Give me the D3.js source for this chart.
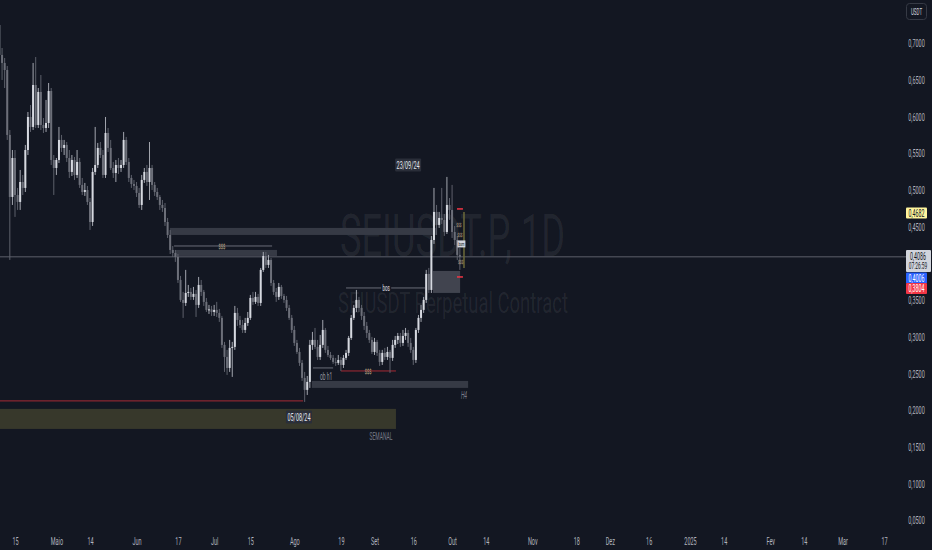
<!DOCTYPE html>
<html><head><meta charset="utf-8">
<script src="https://cdn.jsdelivr.net/npm/d3@7/dist/d3.min.js"></script>
<style>html,body{margin:0;padding:0;background:#131722;overflow:hidden}</style>
</head><body><svg id="c" width="932" height="550"></svg>
<script>
// ---------- DATA ----------
const startDate = "2024-04-09";           // first daily candle
const firstOpen = 0.7245;
const closes = [
0.6837,0.6728,0.6632,0.5747,0.4902,0.5433,0.4929,0.4834,0.5106,0.5025,
0.5542,0.5992,0.5856,0.6428,0.5883,0.6333,0.5883,0.5842,0.5910,0.6346,
0.5406,0.5297,0.5406,0.5679,0.5570,0.5611,0.5433,0.5243,0.5406,0.5202,
0.5379,0.5066,0.4970,0.4997,0.4834,0.4561,0.5243,0.5338,0.5570,0.5474,
0.5202,0.5774,0.5570,0.5297,0.5229,0.5338,0.5297,0.5338,0.5679,0.5379,
0.5161,0.5079,0.5052,0.4957,0.4793,0.5134,0.5243,0.5106,0.5297,0.5066,
0.4970,0.4902,0.4793,0.4752,0.4561,0.4384,0.4180,0.4139,0.4085,0.3771,
0.3499,0.3458,0.3594,0.3608,0.3540,0.3581,0.3431,0.3703,0.3608,0.3472,
0.3363,0.3370,0.3335,0.3363,0.3322,0.3254,0.2886,0.2722,0.2572,0.2845,
0.2859,0.3322,0.3226,0.3158,0.3090,0.3185,0.3254,0.3526,0.3472,0.3540,
0.3458,0.3908,0.4098,0.3976,0.4044,0.3730,0.3608,0.3540,0.3676,0.3553,
0.3499,0.3390,0.3254,0.3090,0.2913,0.2790,0.2641,0.2436,0.2273,0.2382,
0.2886,0.2954,0.2859,0.2722,0.2886,0.3090,0.2818,0.2749,0.2709,0.2654,
0.2641,0.2681,0.2613,0.2709,0.2777,0.2981,0.3254,0.3390,0.3499,0.3390,
0.3281,0.3145,0.3049,0.2954,0.2790,0.2927,0.2777,0.2654,0.2777,0.2722,
0.2790,0.2709,0.2886,0.2954,0.3008,0.2913,0.3008,0.3049,0.2913,0.2818,
0.2681,0.3090,0.3254,0.3363,0.3499,0.3853,0.3635,0.4316,0.4698,0.4521,
0.4616,0.4589,0.4425,0.4793,0.4725,0.4425,0.4316,0.4112,0.4086
];
const highs = [
0.7409,0.6932,0.6796,0.6687,0.5815,0.5542,0.5542,0.5025,0.5270,0.5202,
0.5611,0.6060,0.6155,0.6728,0.6809,0.6387,0.6564,0.5978,0.6224,0.6455,
0.6387,0.5474,0.5433,0.5856,0.5747,0.5679,0.5651,0.5542,0.5474,0.5447,
0.5542,0.5433,0.5161,0.5093,0.5052,0.4888,0.5297,0.5856,0.5638,0.5651,
0.5542,0.5992,0.5842,0.5679,0.5379,0.5406,0.5433,0.5406,0.5788,0.5720,
0.5433,0.5202,0.5134,0.5106,0.5025,0.5202,0.5297,0.5338,0.5651,0.5338,
0.5106,0.5025,0.4929,0.4861,0.4820,0.4616,0.4452,0.4234,0.4180,0.4125,
0.3826,0.3608,0.3908,0.3703,0.3662,0.3676,0.3635,0.3812,0.3771,0.3635,
0.3526,0.3431,0.3417,0.3431,0.3472,0.3376,0.3281,0.2927,0.2818,0.2954,
0.2927,0.3417,0.3390,0.3281,0.3226,0.3254,0.3335,0.3567,0.3608,0.3608,
0.3581,0.3935,0.4153,0.4153,0.4112,0.4071,0.3771,0.3662,0.3730,0.3703,
0.3581,0.3553,0.3431,0.3294,0.3145,0.2954,0.2845,0.2681,0.2518,0.2463,
0.2954,0.3063,0.3117,0.2954,0.3022,0.3226,0.3117,0.2872,0.2790,0.2749,
0.2709,0.2749,0.2722,0.2749,0.2818,0.3008,0.3294,0.3431,0.3635,0.3540,
0.3431,0.3335,0.3199,0.3090,0.2995,0.2981,0.2954,0.2818,0.2818,0.2845,
0.2859,0.2818,0.2954,0.3008,0.3049,0.3049,0.3090,0.3117,0.3090,0.2981,
0.2859,0.3117,0.3294,0.3431,0.3540,0.3908,0.3935,0.4371,0.5025,0.4793,
0.4698,0.5025,0.4670,0.5175,0.4888,0.5066,0.4507,0.4371,0.4207
];
const lows = [
0.6769,0.6496,0.6387,0.5679,0.4044,0.4793,0.4630,0.4725,0.4725,0.4929,
0.4970,0.5474,0.5788,0.5815,0.5842,0.5842,0.5815,0.5774,0.5788,0.5842,
0.5338,0.4929,0.5202,0.5365,0.5515,0.5474,0.5379,0.5161,0.5188,0.5134,
0.5161,0.5025,0.4929,0.4916,0.4793,0.4452,0.4507,0.5202,0.5297,0.5433,
0.5161,0.5161,0.5515,0.5270,0.5161,0.5106,0.5215,0.5243,0.5297,0.5338,
0.5106,0.5025,0.4997,0.4902,0.4752,0.4725,0.5093,0.5052,0.4861,0.4997,
0.4916,0.4861,0.4725,0.4698,0.4507,0.4343,0.4125,0.4085,0.4017,0.3730,
0.3472,0.3254,0.3417,0.3540,0.3499,0.3499,0.3267,0.3390,0.3553,0.3417,
0.3335,0.3308,0.3281,0.3281,0.3267,0.3199,0.2845,0.2518,0.2477,0.2518,
0.2450,0.2818,0.3145,0.3117,0.3049,0.3049,0.3145,0.3226,0.3431,0.3444,
0.3417,0.3417,0.3880,0.3935,0.3935,0.3690,0.3567,0.3472,0.3499,0.3513,
0.3458,0.3349,0.3226,0.3049,0.2872,0.2763,0.2600,0.2395,0.2109,0.2204,
0.2300,0.2818,0.2831,0.2681,0.2681,0.2845,0.2777,0.2722,0.2681,0.2627,
0.2600,0.2613,0.2531,0.2572,0.2681,0.2736,0.2954,0.3226,0.3335,0.3335,
0.3226,0.3090,0.2981,0.2913,0.2763,0.2749,0.2736,0.2600,0.2613,0.2681,
0.2681,0.2504,0.2668,0.2845,0.2899,0.2859,0.2872,0.2954,0.2859,0.2777,
0.2613,0.2641,0.3049,0.3199,0.3322,0.3458,0.3594,0.3594,0.4262,0.4384,
0.4480,0.4534,0.4371,0.4398,0.4589,0.4343,0.4248,0.4044,0.3908
];
const opens = [firstOpen].concat(closes.slice(0, -1)); // daily open = previous close

const timeTickDates = ["2024-04-15","2024-05-01","2024-05-14","2024-06-01","2024-06-17","2024-07-01","2024-07-15","2024-08-01","2024-08-19","2024-09-01","2024-09-16","2024-10-01","2024-10-14","2024-11-01","2024-11-18","2024-12-01","2024-12-16","2025-01-01","2025-01-14","2025-02-01","2025-02-14","2025-03-01","2025-03-17"];
const timeTickLabels = ["15","Maio","14","Jun","17","Jul","15","Ago","19","Set","16","Out","14","Nov","18","Dez","16","2025","14","Fev","14","Mar","17"];
const priceTicks = [0.05,0.10,0.15,0.20,0.25,0.30,0.35,0.40,0.45,0.50,0.55,0.60,0.65,0.70];

const lastPrice = 0.4086, countdown = "07:26:59";
const markerPrices = [{p:0.4682, bg:"#fff59d", fg:"#131722"}, {p:0.4006, bg:"#2962ff", fg:"#ffffff"}, {p:0.3804, bg:"#f23645", fg:"#ffffff"}];

// ---------- SETUP ----------
const svg = d3.select("#c");
const DAY = 864e5;
const t0 = Date.parse(startDate + "T00:00:00Z");
const parse = s => new Date(s + "T00:00:00Z");
const x = d3.scaleUtc().domain([parse("2024-04-15"), parse("2025-03-17")]).range([15, 884]);
const y = d3.scaleLinear().domain([0.05, 0.70]).range([520, 43]);
const xb = b => x(new Date(t0 + b * DAY));   // bar index -> x
const fmt = p => p.toFixed(4).replace(".", ",");
const SX = 0.5;

svg.append("rect").attr("width", 932).attr("height", 550).attr("fill", "#131722");

function ctext(g, px, py, str, o = {}) {
  const t = g.append("text")
    .attr("transform", `translate(${px},${py}) scale(${o.sx ?? SX},1)`)
    .attr("text-anchor", o.anchor || "middle").attr("dy", "0.35em")
    .attr("font-family", o.family || "Roboto, 'DejaVu Sans', sans-serif")
    .attr("font-size", o.size || 10).attr("fill", o.fill || "#b2b5be");
  if (o.weight) t.attr("font-weight", o.weight);
  if (o.italic) t.attr("font-style", "italic");
  t.text(str);
  return t;
}

// ---------- WATERMARK ----------
const wm = svg.append("g");
wm.append("text").attr("x", 340).attr("y", 256).attr("textLength", 225).attr("lengthAdjust", "spacingAndGlyphs")
  .attr("font-family", "Roboto, sans-serif").attr("font-size", 60).attr("fill", "rgba(255,255,255,0.07)").text("SEIUSDT.P, 1D");
wm.append("text").attr("x", 338).attr("y", 313).attr("textLength", 230).attr("lengthAdjust", "spacingAndGlyphs")
  .attr("font-family", "Roboto, sans-serif").attr("font-size", 30).attr("fill", "rgba(255,255,255,0.07)").text("SEIUSDT Perpetual Contract");

// ---------- DRAWINGS (zones & levels) ----------
const plot = svg.append("g");
const zones = [
  {b0: 65.9, b1: 168.8, top: 0.4480, bot: 0.4384, fill: "#363a45"},
  {b0: 67.9, b1: 107.3, top: 0.4180, bot: 0.4098, fill: "#363a45"},
  {b0: 167.6, b1: 178.1, top: 0.3894, bot: 0.3594, fill: "#41444f"},
  {b0: 120.8, b1: 181.2, top: 0.2395, bot: 0.2300, fill: "#363a45"},
  {b0: -2, b1: 153.3, top: 0.2014, bot: 0.1741, fill: "#37382b"}
];
plot.selectAll("rect.zone").data(zones).join("rect").attr("class", "zone")
  .attr("x", d => Math.max(0, xb(d.b0))).attr("width", d => xb(d.b1) - Math.max(0, xb(d.b0)))
  .attr("y", d => y(d.top)).attr("height", d => y(d.bot) - y(d.top)).attr("fill", d => d.fill);

const levels = [
  {b0: 67.5, b1: 105.4, p: 0.4234, c: "#6a6d78"},
  {b0: 134, b1: 164.5, p: 0.3662, c: "#6a6d78"},
  {b0: 132, b1: 153.3, p: 0.2531, c: "#a82a35"},
  {b0: 121.2, b1: 129, p: 0.2572, c: "#6a6d78"},
  {b0: -2, b1: 117.4, p: 0.2123, c: "#a82a35"}
];
plot.selectAll("line.lvl").data(levels).join("line").attr("class", "lvl")
  .attr("x1", d => Math.max(0, xb(d.b0))).attr("x2", d => xb(d.b1))
  .attr("y1", d => y(d.p)).attr("y2", d => y(d.p)).attr("stroke", d => d.c).attr("stroke-width", 1);

// current price line
plot.append("line").attr("x1", 0).attr("x2", 906).attr("y1", y(lastPrice)).attr("y2", y(lastPrice))
  .attr("stroke", "#5d606b").attr("stroke-width", 1);

// ---------- CANDLES ----------
const data = closes.map((c, i) => ({t: new Date(t0 + i * DAY), o: opens[i], h: highs[i], l: lows[i], c}));
const upC = "#d6d9e0", dnC = "#6c6f79";
const cg = plot.append("g");
const cs = cg.selectAll("g").data(data).join("g");
cs.append("line").attr("x1", d => x(d.t)).attr("x2", d => x(d.t))
  .attr("y1", d => y(d.h)).attr("y2", d => y(d.l))
  .attr("stroke", d => d.c >= d.o ? "#a3a6af" : "#5d606b").attr("stroke-width", 1);
cs.append("rect").attr("x", d => x(d.t) - 1).attr("width", 2)
  .attr("y", d => y(Math.max(d.o, d.c)))
  .attr("height", d => Math.max(1, Math.abs(y(d.o) - y(d.c))))
  .attr("fill", d => d.c >= d.o ? upC : dnC);

// ---------- LABELS ON DRAWINGS ----------
const tan = "#cdb894";
function boxLabel(cx, cy, str, w) {
  plot.append("rect").attr("x", cx - w / 2).attr("y", cy - 6.5).attr("width", w).attr("height", 13).attr("rx", 1).attr("fill", "#2a2e39");
  ctext(plot, cx, cy, str, {size: 11, fill: "#e0e3eb"});
}
ctext(plot, xb(86), y(0.4234), "$$$", {size: 8, fill: tan});
plot.append("rect").attr("x", xb(149.5) - 5).attr("y", y(0.3662) - 4.5).attr("width", 10).attr("height", 9).attr("fill", "#131722");
ctext(plot, xb(149.5), y(0.3662), "bos", {size: 9, fill: "#e0e3eb"});
ctext(plot, xb(142.5), y(0.2531), "$$$", {size: 8, fill: tan});
ctext(plot, xb(126.3), y(0.2450), "ob h1", {size: 10, fill: "#9598a1"});
ctext(plot, xb(179.6), y(0.2191), "H4", {size: 10, fill: "#787b86", italic: true});
ctext(plot, xb(147.5), y(0.1632), "SEMANAL", {size: 10, fill: "#787b86"});
boxLabel(xb(115.8), y(0.1905), "05/08/24", 26);
boxLabel(xb(158), y(0.5338), "23/09/24", 26);

// right-end markers
plot.append("line").attr("x1", xb(176.9)).attr("x2", xb(179.2)).attr("y1", y(0.4739)).attr("y2", y(0.4739)).attr("stroke", "#f23645").attr("stroke-width", 1.5);
plot.append("line").attr("x1", xb(176.9)).attr("x2", xb(179.2)).attr("y1", y(0.3812)).attr("y2", y(0.3812)).attr("stroke", "#f23645").attr("stroke-width", 1.5);
plot.append("line").attr("x1", xb(179.6)).attr("x2", xb(179.6)).attr("y1", y(0.4698)).attr("y2", y(0.3935)).attr("stroke", "#6b6a3a").attr("stroke-width", 1.5);
ctext(plot, xb(177.6), y(0.4521), "$$$", {size: 6, fill: tan});
ctext(plot, xb(178), y(0.4384), "$$$", {size: 6, fill: tan});
plot.append("rect").attr("x", xb(178.6) - 4).attr("y", y(0.4262) - 3.5).attr("width", 8).attr("height", 7).attr("fill", "#d1d4dc");
ctext(plot, xb(178.6), y(0.4262), "bsm", {size: 6, fill: "#131722"});
ctext(plot, xb(178.3), y(0.4020), "$$$", {size: 6, fill: tan});

// ---------- AXES ----------
const ya = svg.append("g").attr("transform", "translate(916.5,0)")
  .call(d3.axisRight(y).tickValues(priceTicks).tickFormat(fmt).tickSize(0).tickPadding(0));
ya.select(".domain").remove();
ya.selectAll("text").attr("x", null).attr("dy", "0.35em").attr("text-anchor", "middle")
  .attr("transform", `scale(${SX},1)`).attr("fill", "#b2b5be").attr("font-size", 11)
  .attr("font-family", "Roboto, sans-serif");

const xa = svg.append("g").attr("transform", "translate(0,541)")
  .call(d3.axisBottom(x).tickValues(timeTickDates.map(parse)).tickFormat((d, i) => timeTickLabels[i]).tickSize(0).tickPadding(0));
xa.select(".domain").remove();
xa.selectAll("text").attr("y", 0).attr("dy", "0.35em").attr("transform", `scale(${SX},1)`)
  .attr("fill", "#b2b5be").attr("font-size", 11).attr("font-family", "Roboto, sans-serif");

// price labels on axis
const ax = svg.append("g");
markerPrices.forEach((m, k) => {
  let cy = y(m.p);
  if (k === 1) cy = 278; if (k === 2) cy = 288.5;
  ax.append("rect").attr("x", 906).attr("y", cy - 5.5).attr("width", 21).attr("height", 11).attr("rx", 1).attr("fill", m.bg);
  ctext(ax, 916.5, cy, fmt(m.p), {size: 10.5, fill: m.fg});
});
ax.append("rect").attr("x", 906).attr("y", 250).attr("width", 25).attr("height", 22).attr("rx", 1).attr("fill", "#d1d4dc");
ctext(ax, 918, 256.5, fmt(lastPrice), {size: 10.5, fill: "#131722"});
ctext(ax, 918, 266, countdown, {size: 9.5, fill: "#131722"});

// currency button
ax.append("rect").attr("x", 906.5).attr("y", 3.5).attr("width", 20).attr("height", 16).attr("rx", 3)
  .attr("fill", "#131722").attr("stroke", "#363a45");
ctext(ax, 916.5, 11.5, "USDT", {size: 9, fill: "#d1d4dc"});
</script></body></html>
